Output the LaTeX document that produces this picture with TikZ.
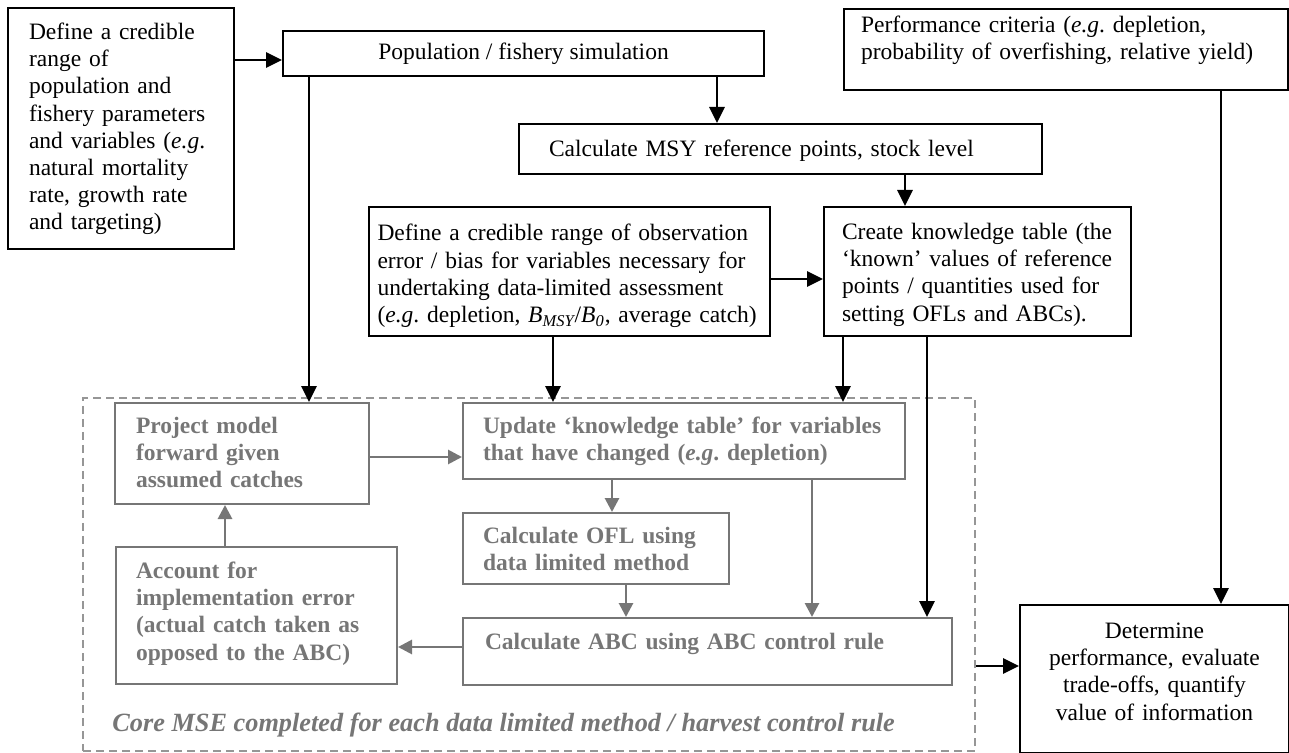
\documentclass[tikz,border=0pt]{standalone}
\usepackage{fontspec}
\setmainfont{Liberation Serif}
\usetikzlibrary{arrows.meta}
\definecolor{mygray}{RGB}{118,118,118}
\definecolor{dashgray}{RGB}{150,150,150}
\newcommand\fs{\fontsize{11.75pt}{13.6pt}\selectfont}
\begin{document}
\frenchspacing
\begin{tikzpicture}[x=0.5pt,y=-0.5pt,
  box/.style={draw=black, line width=1pt, inner sep=0pt, anchor=north west, font=\fs\frenchspacing, align=left},
  gbox/.style={draw=mygray, text=mygray, line width=1pt, inner sep=0pt, anchor=north west, font=\fs\bfseries\frenchspacing, align=left},
  arr/.style={line width=1.4pt, -{Triangle[length=8pt,width=7.5pt]}},
  garr/.style={line width=1.4pt, color=mygray, -{Triangle[length=7pt,width=7pt]}},
  dashbox/.style={draw=dashgray, line width=1pt, dash pattern=on 4pt off 2.5pt, inner sep=0pt, anchor=north west}
]
\useasboundingbox (0,0) rectangle (1289,753);
\node[dashbox, minimum width=446pt, minimum height=176.5pt] (core) at (82,397) {};
\node[anchor=base west, inner sep=0pt, text=mygray, font=\fontsize{13.15pt}{15pt}\selectfont\bfseries\itshape] (coretxt) at (112,731) {Core MSE completed for each data limited method / harvest control rule};

\node[box, minimum width=113pt, text width=92pt, text height=15.75pt, text depth=104.75pt] (A) at (7,7) {Define a credible\\ range of\\ population and\\ fishery parameters\\ and variables (\textit{e.g}.\\ natural mortality\\ rate, growth rate\\ and targeting)};
\node[box, minimum width=240.5pt, text height=14.25pt, text depth=8.25pt, align=center] (Pop) at (282,30) {Population / fishery simulation};
\node[box, minimum width=222pt, text width=205pt, text height=11.75pt, text depth=28.75pt] (Perf) at (843,8) {Performance criteria (\textit{e.g}. depletion,\\ probability of overfishing, relative yield)};
\node[box, minimum width=261.5pt, text width=231.5pt, text height=16.25pt, text depth=8.75pt] (MSY) at (518,123) {Calculate MSY reference points, stock level};
\node[box, minimum width=200.5pt, text width=192pt, text height=17pt, text depth=47.5pt] (Obs) at (368,206) {Define a credible range of observation\\ error / bias for variables necessary for\\ undertaking data-limited assessment\\ (\textit{e.g}. depletion, \textit{B\textsubscript{MSY}}/\textit{B\textsubscript{0}}, average catch)};
\node[box, minimum width=153.5pt, text width=135.5pt, text height=16.25pt, text depth=48.25pt] (Know) at (823,206) {Create knowledge table (the\\ `known' values of reference\\ points / quantities used for\\ setting OFLs and ABCs).};

\node[gbox, minimum width=127pt, text width=106pt, text height=15.25pt, text depth=35.25pt] (Proj) at (114,402) {Project model\\ forward given\\ assumed catches};
\node[gbox, minimum width=221pt, text width=201pt, text height=15.25pt, text depth=22.75pt] (Upd) at (462,402) {Update `knowledge table' for variables\\ that have changed (\textit{e.g}. depletion)};
\node[gbox, minimum width=133pt, text width=113pt, text height=15.25pt, text depth=20.25pt] (OFL) at (462,512) {Calculate OFL using\\ data limited method};
\node[gbox, minimum width=244.5pt, text width=222.5pt, text height=15.75pt, text depth=17.75pt] (ABC) at (462,617) {Calculate ABC using ABC control rule};
\node[gbox, minimum width=140.5pt, text width=120.5pt, text height=15.75pt, text depth=52.75pt] (Acc) at (115,546) {Account for\\ implementation error\\ (actual catch taken as\\ opposed to the ABC)};
\node[box, minimum width=134.5pt, text width=124pt, text height=16.75pt, text depth=57.25pt, align=center] (Det) at (1019,604) {Determine\\ performance, evaluate\\ trade-offs, quantify\\ value of information};

\draw[arr] (A.east |- 0,60) -- (Pop.west |- 0,60);
\draw[arr] (Pop.south -| 309,0) -- (Proj.north -| 309,0);
\draw[arr] (Pop.south -| 717,0) -- (MSY.north -| 717,0);
\draw[arr] (MSY.south -| 905,0) -- (Know.north -| 905,0);
\draw[arr] (Obs.east |- 0,279) -- (Know.west |- 0,279);
\draw[arr] (Obs.south -| 553,0) -- (Upd.north -| 553,0);
\draw[arr] (Know.south -| 843,0) -- (Upd.north -| 843,0);
\draw[arr] (Know.south -| 927,0) -- (ABC.north -| 927,0);
\draw[arr] (Perf.south -| 1221,0) -- (Det.north -| 1221,0);
\draw[arr] (core.east |- 0,666) -- (Det.west |- 0,666);

\draw[garr] (Proj.east |- 0,457) -- (Upd.west |- 0,457);
\draw[garr] (Upd.south -| 612,0) -- (OFL.north -| 612,0);
\draw[garr] (OFL.south -| 626,0) -- (ABC.north -| 626,0);
\draw[garr] (Upd.south -| 812,0) -- (ABC.north -| 812,0);
\draw[garr] (ABC.west |- 0,647) -- (Acc.east |- 0,647);
\draw[garr] (Acc.north -| 225,0) -- (Proj.south -| 225,0);
\end{tikzpicture}
\end{document}
